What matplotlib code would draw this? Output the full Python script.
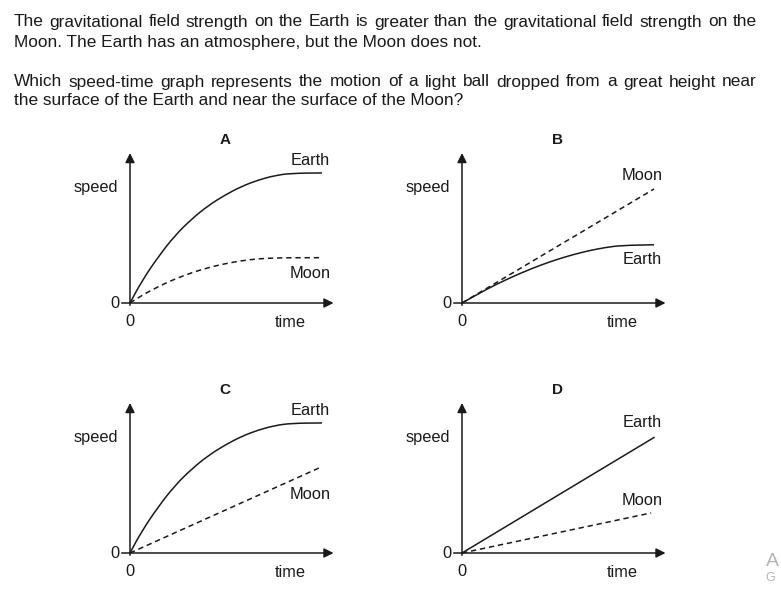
import matplotlib
matplotlib.use("Agg")
import matplotlib.pyplot as plt
from matplotlib.path import Path
from matplotlib.patches import PathPatch

plt.rcParams["font.family"] = ["Liberation Sans", "DejaVu Sans"]

INK = "#1a1a1a"

# question text (lines 1 and 3 are justified in the original)
question_lines = [
    "The gravitational field strength on the Earth is greater than the gravitational field strength on the",
    "Moon. The Earth has an atmosphere, but the Moon does not.",
    "Which speed-time graph represents the motion of a light ball dropped from a great height near",
    "the surface of the Earth and near the surface of the Moon?",
]
question_baseline = [26.5, 46.5, 86.5, 105]
question_justified = [True, False, True, False]

# panel data (time, speed)
panel_names = ["A", "B", "C", "D"]

t_a = [0, 0.61, 1.48, 2.34, 3.21, 4.08, 4.95, 5.82, 6.68, 7.55, 8.42, 10]
earth_a = [0, 1.45, 3.1, 4.5, 5.6, 6.5, 7.2, 7.78, 8.2, 8.5, 8.65, 8.67]
moon_a = [0, 0.5, 1.1, 1.6, 2.02, 2.36, 2.62, 2.82, 2.95, 3.0, 3.02, 3.02]

t_b = [0, 1.37, 2.24, 3.11, 3.98, 4.84, 5.71, 6.58, 7.45, 8.32, 10]
earth_b = [0, 0.98, 1.52, 2.02, 2.47, 2.86, 3.2, 3.48, 3.7, 3.84, 3.88]
moon_b_t = [0, 10]
moon_b = [0, 7.6]

earth_c = [0, 1.45, 3.1, 4.5, 5.6, 6.5, 7.2, 7.78, 8.2, 8.5, 8.65, 8.67]
moon_c_t = [0, 9.9]
moon_c = [0, 5.7]

earth_d_t = [0, 10]
earth_d = [0, 7.7]
moon_d_t = [0, 9.85]
moon_d = [0, 2.67]

panels = {
    "A": (t_a, earth_a, t_a, moon_a),
    "B": (t_b, earth_b, moon_b_t, moon_b),
    "C": (t_a, earth_c, moon_c_t, moon_c),
    "D": (earth_d_t, earth_d, moon_d_t, moon_d),
}
# label heights (Earth, Moon) in speed units
label_y = {"A": (9.47, 2.0), "B": (2.87, 8.47), "C": (9.53, 3.87), "D": (8.67, 3.53)}
origins = {"A": (130, 303), "B": (462, 303), "C": (130, 553), "D": (462, 553)}


def smooth_curve(ax, xs, ys, color, lw, ls="-"):
    """Draw a smooth line through the points using quadratic Bezier segments."""
    pts = list(zip(xs, ys))
    if len(pts) < 3:
        ax.plot(xs, ys, color=color, lw=lw, linestyle=ls)
        return
    verts = [pts[0]]
    codes = [Path.MOVETO]
    verts.append(((pts[0][0] + pts[1][0]) / 2, (pts[0][1] + pts[1][1]) / 2))
    codes.append(Path.LINETO)
    for i in range(1, len(pts) - 1):
        mid = ((pts[i][0] + pts[i + 1][0]) / 2, (pts[i][1] + pts[i + 1][1]) / 2)
        verts += [pts[i], mid]
        codes += [Path.CURVE3, Path.CURVE3]
    verts.append(pts[-1])
    codes.append(Path.LINETO)
    ax.add_patch(PathPatch(Path(verts, codes), fill=False, edgecolor=color,
                           lw=lw, linestyle=ls))


W, H = 781, 601
fig = plt.figure(figsize=(W / 100, H / 100), dpi=100)
fig.patch.set_facecolor("white")
renderer = fig.canvas.get_renderer()

TEXT_SIZE = 12.4
LEFT, RIGHT = 14, 757
for line, y, just in zip(question_lines, question_baseline, question_justified):
    if not just:
        fig.text(LEFT / W, 1 - y / H, line, fontsize=TEXT_SIZE, color=INK,
                 va="baseline", ha="left")
        continue
    words = line.split(" ")
    widths = []
    for wd in words:
        tmp = fig.text(0, 0, wd, fontsize=TEXT_SIZE)
        widths.append(tmp.get_window_extent(renderer).width)
        tmp.remove()
    gap = (RIGHT - LEFT - sum(widths)) / (len(words) - 1)
    x = LEFT
    for wd, wpx in zip(words, widths):
        fig.text(x / W, 1 - y / H, wd, fontsize=TEXT_SIZE, color=INK,
                 va="baseline", ha="left")
        x += wpx + gap

PX_X, PX_Y = 19.2, 15.0
XLIM, YLIM = (-4.5, 11.5), (-2.5, 11.5)
FS = 11.8

for name in panel_names:
    ox, oy = origins[name]
    left = ox + XLIM[0] * PX_X
    bottom = oy - YLIM[0] * PX_Y
    w = (XLIM[1] - XLIM[0]) * PX_X
    h = (YLIM[1] - YLIM[0]) * PX_Y
    ax = fig.add_axes([left / W, 1 - bottom / H, w / W, h / H])
    ax.set_xlim(*XLIM)
    ax.set_ylim(*YLIM)
    ax.axis("off")

    # axes with arrow heads
    arrow = dict(arrowstyle="-|>", color=INK, lw=1.1, mutation_scale=14,
                 shrinkA=0, shrinkB=0)
    ax.annotate("", xy=(0, 10), xytext=(0, -0.15), arrowprops=arrow)
    ax.annotate("", xy=(10.6, 0), xytext=(0, 0), arrowprops=arrow)
    ax.plot([-0.42, 0], [0, 0], color=INK, lw=1.1)

    te, ve, tm, vm = panels[name]
    smooth_curve(ax, te, ve, INK, 1.1)
    smooth_curve(ax, tm, vm, INK, 1.1, ls=(0, (3.5, 2.5)))

    ey, my = label_y[name]
    ax.text(9.4, ey, "Earth", fontsize=FS, color=INK, ha="center", va="center")
    ax.text(9.4, my, "Moon", fontsize=FS, color=INK, ha="center", va="center")
    ax.text(-0.62, 7.73, "speed", fontsize=FS, color=INK, ha="right", va="center")
    ax.text(8.33, -1.27, "time", fontsize=FS, color=INK, ha="center", va="center")
    ax.text(-0.55, 0, "0", fontsize=FS, color=INK, ha="right", va="center")
    ax.text(0, -1.2, "0", fontsize=FS, color=INK, ha="center", va="center")
    ax.text(4.95, 10.87, name, fontsize=11, color=INK, ha="center", va="center",
            fontweight="bold")

# watermark remnant at bottom right (cut off in the original)
fig.text(766 / W, 1 - 561 / H, "A", fontsize=14, color="#b5b5b5",
         ha="left", va="center")
fig.text(765 / W, 1 - 578 / H, "G", fontsize=9, color="#b5b5b5",
         ha="left", va="center")

fig.savefig("out.png", dpi=100, facecolor="white")
